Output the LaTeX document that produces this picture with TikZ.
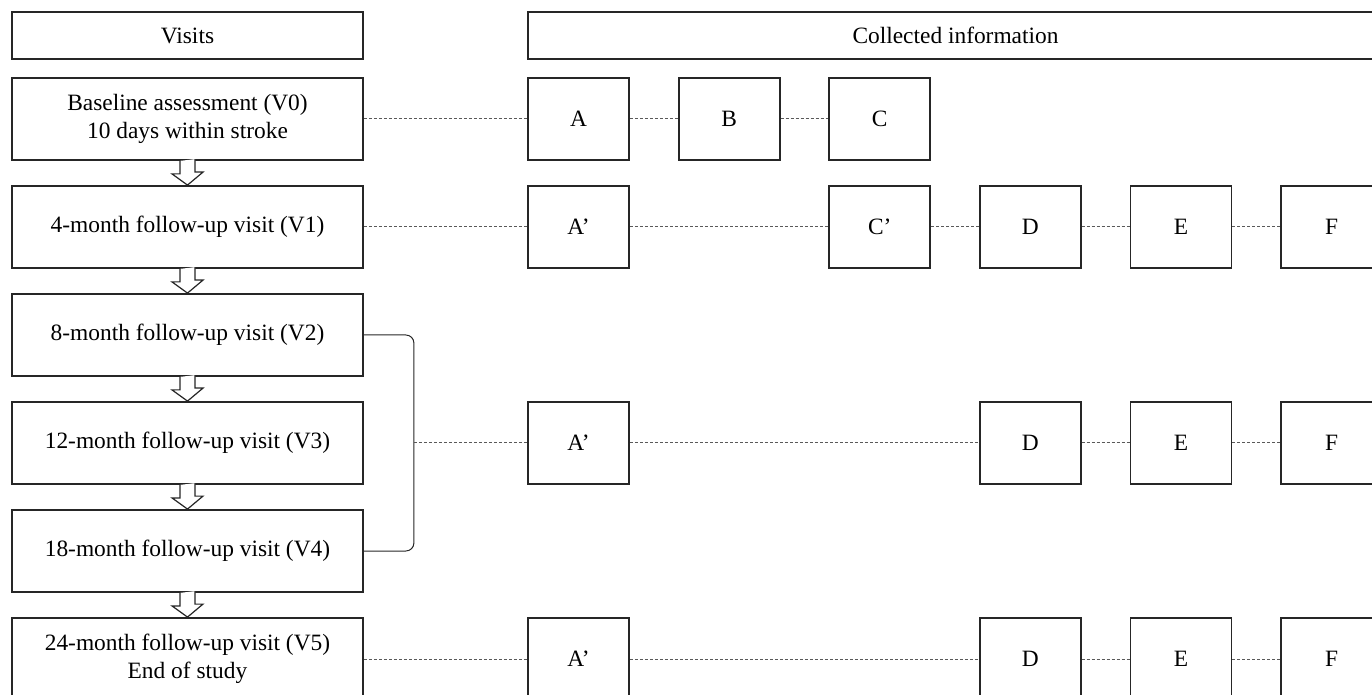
\documentclass[tikz,border=0pt]{standalone}
\usepackage{fontspec}
\setmainfont{Liberation Serif}

\begin{document}
\begin{tikzpicture}[x = 0.5pt , y = -0.5pt ,
    box/.style = {draw = black!85 , line width = 0.9pt , minimum width = 175.5pt , minimum height = 41pt ,
                  inner sep = 0pt , align = center , font = \fontsize{11.7}{14}\selectfont},
    infobox/.style = {box , minimum width = 50.5pt},
    headbox/.style = {box , minimum height = 23.5pt},
    link/.style = {draw = black!65 , line width = 0.5pt , dash pattern = on 1.5pt off 1pt},
    flow/.style = {draw = black!85 , line width = 0.6pt , fill = white}]
    \useasboundingbox (0,0) rectangle (1372,695);
    \clip (0,0) rectangle (1372,695);

    % headers
    \node[headbox] (visits) at (187.5,35.5) {Visits};
    \node[headbox , minimum width = 427.5pt] (info) at (955.5,35.5) {Collected information};

    % visits
    \node[box] (v0) at (187.5,119) {Baseline assessment (V0)\\10 days within stroke};
    \node[box] (v1) at (187.5,227) {4-month follow-up visit (V1)};
    \node[box] (v2) at (187.5,335) {8-month follow-up visit (V2)};
    \node[box] (v3) at (187.5,443) {12-month follow-up visit (V3)};
    \node[box] (v4) at (187.5,551) {18-month follow-up visit (V4)};
    \node[box] (v5) at (187.5,659) {24-month follow-up visit (V5)\\End of study};

    \foreach \a/\b in {v0/v1,v1/v2,v2/v3,v3/v4,v4/v5}
        \draw[flow] (\a.south) ++(-7.5,0) -- ++(0,13) -- ++(-8,0) -- (\b.north)
            -- ++(15.5,-13) -- ++(-8,0) -- ++(0,-13);

    % collected information
    \node[infobox] (a0) at (578.5,119) {A};
    \node[infobox] (b0) at (729.1,119) {B};
    \node[infobox] (c0) at (879.7,119) {C};

    \node[infobox] (a1) at (578.5,227) {A'};
    \node[infobox] (c1) at (879.7,227) {C'};
    \node[infobox] (d1) at (1030.3,227) {D};
    \node[infobox] (e1) at (1180.9,227) {E};
    \node[infobox] (f1) at (1331.5,227) {F};

    \node[infobox] (a3) at (578.5,443) {A'};
    \node[infobox] (d3) at (1030.3,443) {D};
    \node[infobox] (e3) at (1180.9,443) {E};
    \node[infobox] (f3) at (1331.5,443) {F};

    \node[infobox] (a5) at (578.5,659) {A'};
    \node[infobox] (d5) at (1030.3,659) {D};
    \node[infobox] (e5) at (1180.9,659) {E};
    \node[infobox] (f5) at (1331.5,659) {F};

    % bracket V2--V4
    \draw[black!85 , line width = 0.5pt , rounded corners = 4pt] (v2.east) -- ++(50,0) |- (v4.east);
    \path (v3.east) ++(50,0) coordinate (brk);

    % dashed links
    \draw[link] (v0) -- (a0) (a0) -- (b0) (b0) -- (c0);
    \draw[link] (v1) -- (a1) (a1) -- (c1) (c1) -- (d1) (d1) -- (e1) (e1) -- (f1);
    \draw[link] (brk) -- (a3) (a3) -- (d3) (d3) -- (e3) (e3) -- (f3);
    \draw[link] (v5) -- (a5) (a5) -- (d5) (d5) -- (e5) (e5) -- (f5);
\end{tikzpicture}
\end{document}
